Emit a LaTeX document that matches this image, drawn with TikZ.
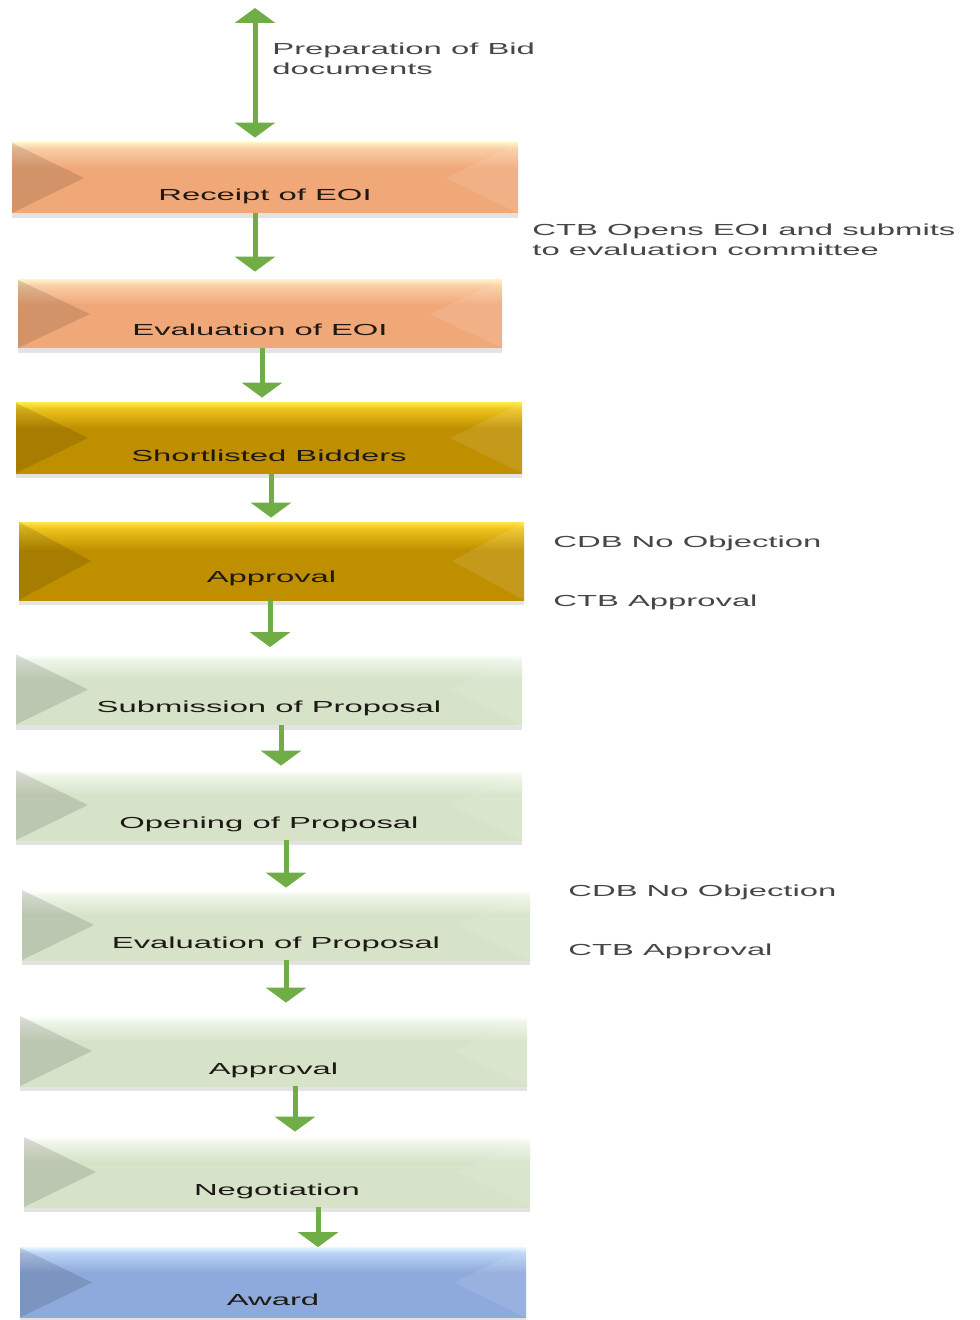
\documentclass[tikz,border=0pt]{standalone}
\usepackage{fontspec}
\setmainfont{Liberation Sans}
\usetikzlibrary{arrows.meta,shadows}

\definecolor{arrowgreen}{RGB}{112,173,71}
\definecolor{sidegray}{RGB}{70,70,70}
\definecolor{boxtext}{RGB}{30,25,20}
\definecolor{orMain}{RGB}{240,168,120}
\definecolor{orTop}{RGB}{250,205,165}
\definecolor{orHi}{RGB}{255,238,195}
\definecolor{gdMain}{RGB}{191,143,0}
\definecolor{gdTop}{RGB}{238,196,30}
\definecolor{gdHi}{RGB}{255,230,70}
\definecolor{grMain}{RGB}{214,227,201}
\definecolor{grTop}{RGB}{238,245,232}
\definecolor{grHi}{RGB}{255,255,255}
\definecolor{blMain}{RGB}{142,169,219}
\definecolor{blTop}{RGB}{185,210,245}
\definecolor{blHi}{RGB}{225,245,255}

\pgfdeclareverticalshading{orangebevel}{100bp}{color(0bp)=(orMain); color(57bp)=(orMain); color(71bp)=(orTop); color(75bp)=(orHi); color(100bp)=(orHi)}
\pgfdeclareverticalshading{goldbevel}{100bp}{color(0bp)=(gdMain); color(57bp)=(gdMain); color(71bp)=(gdTop); color(75bp)=(gdHi); color(100bp)=(gdHi)}
\pgfdeclareverticalshading{greenbevel}{100bp}{color(0bp)=(grMain); color(57bp)=(grMain); color(71bp)=(grTop); color(75bp)=(grHi); color(100bp)=(grHi)}
\pgfdeclareverticalshading{bluebevel}{100bp}{color(0bp)=(blMain); color(57bp)=(blMain); color(71bp)=(blTop); color(75bp)=(blHi); color(100bp)=(blHi)}

\newcommand{\wide}[1]{\scalebox{2.05}[1]{#1}}
\newcommand{\bevelsides}{%
  \fill[black,opacity=.12] (path picture bounding box.north west) -- ([xshift=36pt]path picture bounding box.west) -- (path picture bounding box.south west) -- cycle;
  \fill[white,opacity=.1] (path picture bounding box.north east) -- ([xshift=-36pt]path picture bounding box.east) -- (path picture bounding box.south east) -- cycle;}

\tikzset{
  stepbox/.style={rectangle, inner sep=0pt, minimum width=#1, text height=29pt, text depth=6pt,
    text=boxtext, font=\fontsize{8}{10}\selectfont, shade, path picture={\bevelsides},
    drop shadow={shadow xshift=0pt, shadow yshift=-2.5pt, opacity=.22}},
  orangebox/.style={stepbox=#1, shading=orangebevel},
  goldbox/.style={stepbox=#1, shading=goldbevel},
  greenbox/.style={stepbox=#1, shading=greenbevel},
  bluebox/.style={stepbox=#1, shading=bluebevel},
  flow/.style={arrowgreen, line width=2.5pt, -{Triangle[width=20pt,length=7.5pt]}},
  note/.style={anchor=base west, text=sidegray, font=\fontsize{8}{10}\selectfont, inner sep=0pt},
}

\begin{document}
\begin{tikzpicture}[x=0.5pt,y=-0.5pt]
    \useasboundingbox (0,0) rectangle (979,1320);

    % EOI stage
    \node[orangebox=253pt] (receipt) at (265,178) {\wide{Receipt of EOI}};
    \node[orangebox=242pt, text height=28pt] (evaleoi) at (260,314) {\wide{Evaluation of EOI}};

    % Shortlist and approval
    \node[goldbox=253pt] (shortlist) at (269,438) {\wide{Shortlisted Bidders}};
    \node[goldbox=252.5pt, text height=30pt, text depth=9pt] (approve1) at (271.5,561) {\wide{Approval}};

    % Proposal stage
    \node[greenbox=253pt] (submit) at (269,689.5) {\wide{Submission of Proposal}};
    \node[greenbox=253pt] (opening) at (269,805) {\wide{Opening of Proposal}};
    \node[greenbox=254pt] (evalprop) at (276,925) {\wide{Evaluation of Proposal}};
    \node[greenbox=253.5pt] (approve2) at (273.5,1051) {\wide{Approval}};
    \node[greenbox=253pt] (negotiate) at (277,1172) {\wide{Negotiation}};

    % Award
    \node[bluebox=253pt] (award) at (273,1282.5) {\wide{Award}};

    % Notes
    \node[note] (prep) at (272,55) {\wide{\begin{tabular}[t]{@{}l@{}}Preparation of Bid\\documents\end{tabular}}};
    \node[note] (ctbopen) at (532,236) {\wide{\begin{tabular}[t]{@{}l@{}}CTB Opens EOI and submits\\to evaluation committee\end{tabular}}};
    \node[note] (cdb1) at (553,547) {\wide{CDB No Objection}};
    \node[note] (ctb1) at (553,606) {\wide{CTB Approval}};
    \node[note] (cdb2) at (568,896) {\wide{CDB No Objection}};
    \node[note] (ctb2) at (568,955) {\wide{CTB Approval}};

    % Arrows
    \coordinate (top) at (255,8);
    \draw[flow, {Triangle[width=20pt,length=7.5pt]}-{Triangle[width=20pt,length=7.5pt]}, shorten >=2.5pt] (top) -- (top |- receipt.north);
    \draw[flow, shorten >=4pt] ([xshift=-5pt]receipt.south) -- ([xshift=-5pt]receipt.south |- evaleoi.north);
    \draw[flow, shorten >=2.5pt] ([xshift=1pt]evaleoi.south) -- ([xshift=1pt]evaleoi.south |- shortlist.north);
    \draw[flow, shorten >=2pt] ([xshift=1pt]shortlist.south) -- ([xshift=1pt]shortlist.south |- approve1.north);
    \draw[flow, shorten >=3.5pt] ([xshift=-0.75pt]approve1.south) -- ([xshift=-0.75pt]approve1.south |- submit.north);
    \draw[flow, shorten >=2pt] ([xshift=6pt]submit.south) -- ([xshift=6pt]submit.south |- opening.north);
    \draw[flow, shorten >=1pt] ([xshift=8.5pt]opening.south) -- ([xshift=8.5pt]opening.south |- evalprop.north);
    \draw[flow, shorten >=6.5pt] ([xshift=5pt]evalprop.south) -- ([xshift=5pt]evalprop.south |- approve2.north);
    \draw[flow, shorten >=2.5pt] ([xshift=10.75pt]approve2.south) -- ([xshift=10.75pt]approve2.south |- negotiate.north);
    \draw[flow] ([xshift=20.5pt]negotiate.south) -- ([xshift=20.5pt]negotiate.south |- award.north);
\end{tikzpicture}
\end{document}
